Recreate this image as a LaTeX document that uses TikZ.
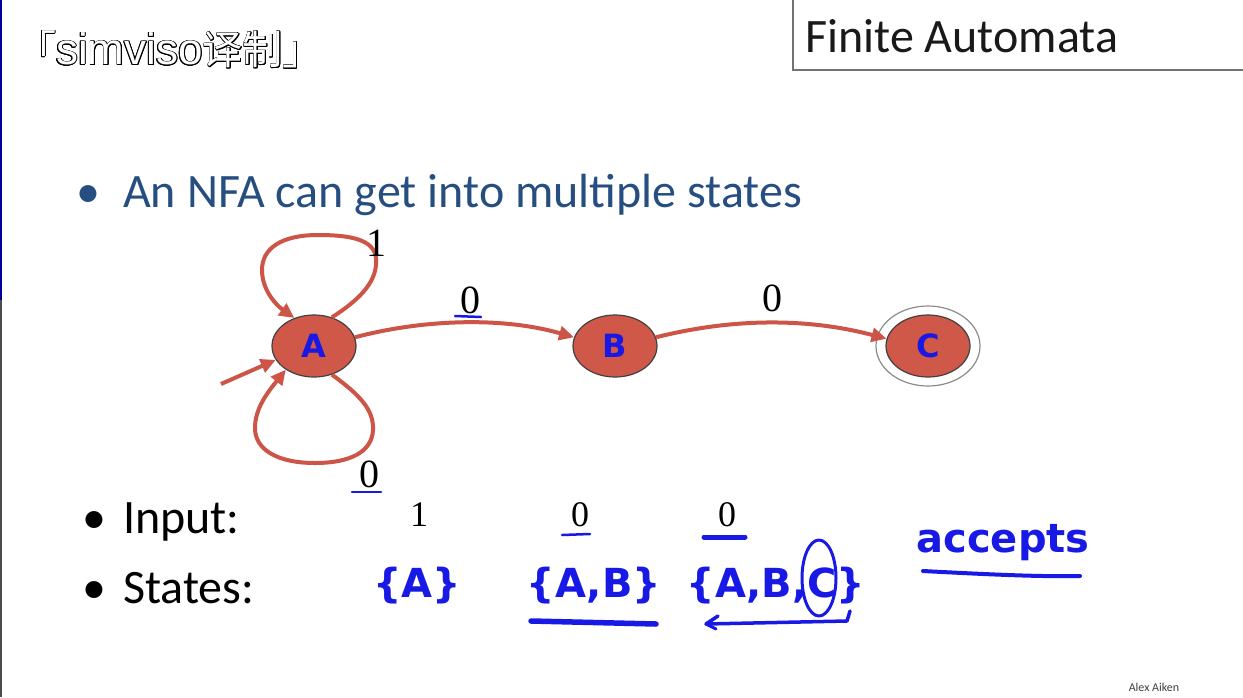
\documentclass[tikz,border=0pt]{standalone}
\usepackage{fontspec}
\setmainfont{Carlito}
\newfontfamily\cjkfont{Noto Sans CJK SC}
\newfontfamily\arialfont{Liberation Sans}
\newfontfamily\serifnum{Liberation Serif}
\newfontfamily\handfont{DejaVu Sans}
\usepackage{contour}
\contourlength{0.8pt}
\usetikzlibrary{shapes.geometric,arrows.meta,calc}
\definecolor{statered}{RGB}{208,88,72}
\definecolor{edgered}{RGB}{205,85,72}
\definecolor{inkblue}{RGB}{25,25,230}
\definecolor{slideblue}{RGB}{38,78,128}
\begin{document}
\begin{tikzpicture}[x=1pt,y=1pt,
  state/.style={ellipse, draw=black!75, line width=1.2pt, fill=statered, minimum width=84pt, minimum height=62pt, inner sep=0pt, font=\handfont\bfseries\fontsize{32}{32}\selectfont, text=inkblue},
  edge/.style={draw=edgered, line width=4pt, -{Triangle[length=15pt,width=14pt]}},
  lbl/.style={font=\serifnum\fontsize{40}{40}\selectfont, inner sep=0pt},
  inlbl/.style={font=\serifnum\fontsize{36}{36}\selectfont, inner sep=0pt},
  ink/.style={draw=inkblue, line cap=round, line join=round},
  hand/.style={font=\handfont\bfseries\fontsize{40}{40}\selectfont, text=inkblue, inner sep=0pt},
  slide/.style={font=\fontsize{48}{48}\selectfont, inner sep=0pt, anchor=base west}]
\useasboundingbox (0,0) rectangle (1243,-697);
\fill[white] (0,0) rectangle (1243,-697);
% left edge
\fill[blue!60!black] (0,0) rectangle (2,-300);
\fill[black!70] (0,-300) rectangle (2,-697);
% watermark
\node[anchor=west, inner sep=0pt, font=\cjkfont\fontsize{40}{40}\selectfont] (wm) at (16,-50) {\contour{black}{\textcolor{white}{「{\arialfont\fontsize{44}{44}\selectfont simviso}译制」}}};
% title box
\draw[black!55, line width=1.8pt, fill=white] (793,2) rectangle (1250,-70);
\node[slide, text=black!90] (title) at (805,-52) {Finite Automata};
% first bullet
\node[slide, text=slideblue] (b1) at (76,-207) {•};
\node[slide, text=slideblue] (t1) at (123,-207) {An NFA can get into multiple states};
% states
\node[state] (A) at (314,-346) {A};
\node[state] (B) at (615,-346) {B};
\node[state] (C) at (928,-346) {C};
\node[ellipse, draw=black!45, line width=1.2pt, minimum width=104pt, minimum height=80pt] (Cring) at (C) {};
% start arrow
\coordinate (start) at (221,-384);
\draw[edge] (start) -- (A.200);
% self loop top (1)
\draw[edge] (A.58) .. controls (362,-298) and (378,-280) .. (376,-258)
  .. controls (374,-240) and (352,-235) .. (318,-235)
  .. controls (282,-235) and (262,-248) .. (262,-270)
  .. controls (262,-290) and (276,-305) .. (A.125);
% self loop bottom (0)
\draw[edge] (A.-58) .. controls (360,-395) and (374,-410) .. (373,-430)
  .. controls (372,-452) and (350,-463) .. (315,-463)
  .. controls (278,-463) and (255,-450) .. (255,-428)
  .. controls (255,-408) and (268,-392) .. (A.-140);
% A -> B, B -> C
\draw[edge] (A.12) .. controls (420,-320) and (500,-316) .. (B.168);
\draw[edge] (B.12) .. controls (725,-320) and (800,-316) .. (C.170);
% edge labels
\node[lbl] (l1) at (376,-243) {1};
\node[lbl] (l0a) at (470,-300) {0};
\node[lbl] (l0b) at (772,-298) {0};
\node[lbl] (l0c) at (369,-474) {0};
\draw[ink, line width=2.5pt] (455,-316) -- (481,-317);
\draw[ink, line width=2.5pt] (352,-492) -- (381,-492);
% Input / States rows
\node[slide, text=black] (b2) at (82,-533) {•};
\node[slide, text=black] (t2) at (123,-533) {Input:};
\node[slide, text=black] (b3) at (82,-603) {•};
\node[slide, text=black] (t3) at (123,-603) {States:};
\node[inlbl] (i1) at (419,-515) {1};
\node[inlbl] (i2) at (580,-515) {0};
\node[inlbl] (i3) at (727,-515) {0};
\draw[ink, line width=2.5pt] (562,-535) -- (590,-534);
\draw[ink, line width=5pt] (704,-537) -- (745,-537);
\node[hand] (s1) at (417,-586) {\{A\}};
\node[hand] (s2) at (594,-586) {\{A,B\}};
\node[hand] (s3) at (776,-586) {\{A,B,C\}};
\draw[ink, line width=5.5pt] (531,-621) -- (656,-624);
\draw[ink, line width=3pt] (819,-578) ellipse [x radius=17, y radius=38];
\draw[ink, line width=3.5pt] (850,-611) -- (847,-621) -- (706,-624) -- (718,-616);
\draw[ink, line width=3pt] (706,-624) -- (716,-629);
\node[hand] (acc) at (1003,-543) {accepts};
\draw[ink, line width=4pt] (923,-571) .. controls (980,-574) and (1040,-577) .. (1080,-576);
% author
\node[font=\fontsize{12}{12}\selectfont, text=black!75, inner sep=0pt] (author) at (1154,-687) {Alex Aiken};
\end{tikzpicture}
\end{document}
